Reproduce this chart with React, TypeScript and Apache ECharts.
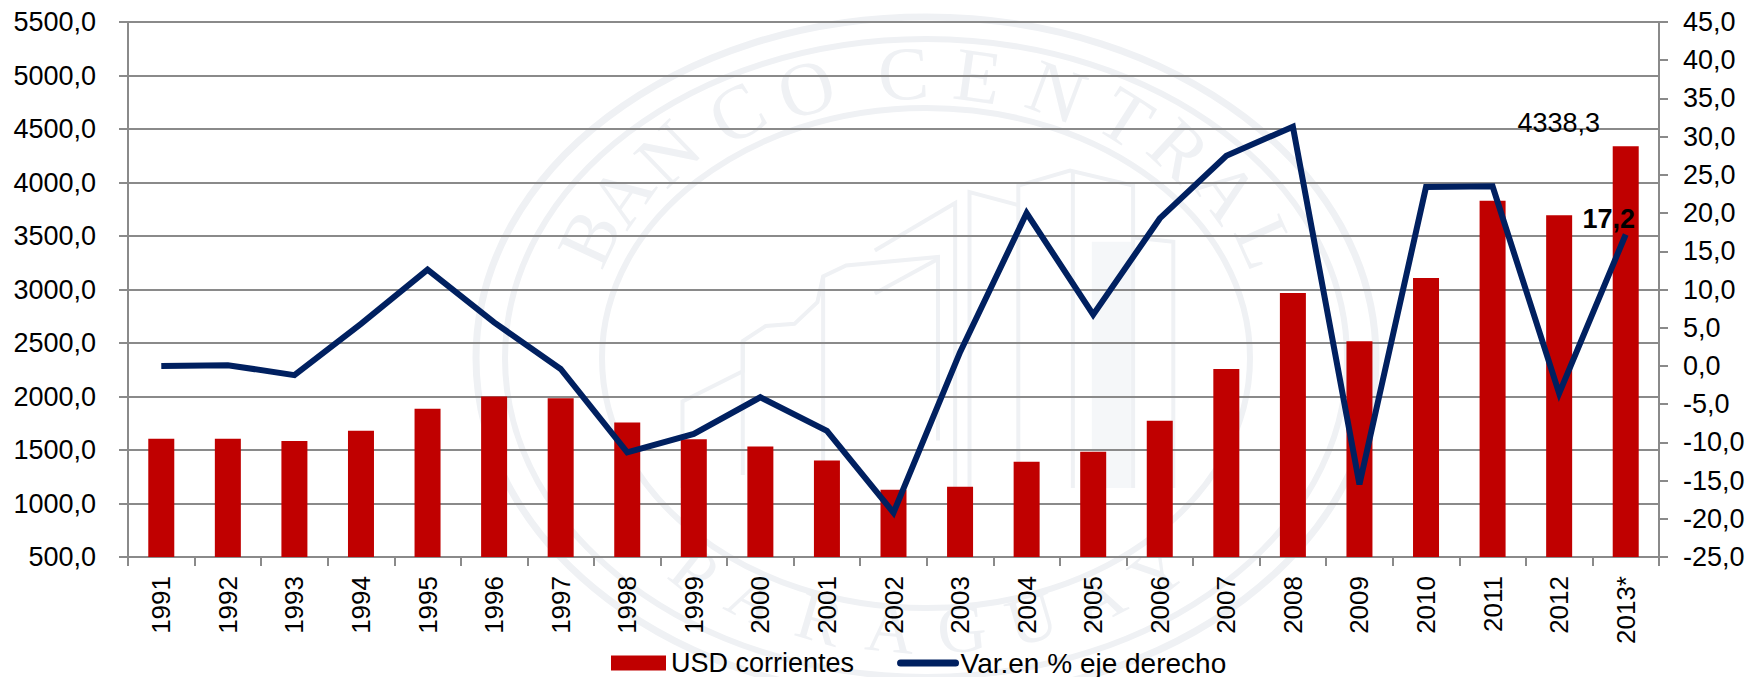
import React, { useEffect, useRef } from "react";
import * as echarts from "echarts";

const years = ["1991","1992","1993","1994","1995","1996","1997","1998","1999","2000","2001","2002","2003","2004","2005","2006","2007","2008","2009","2010","2011","2012","2013*"];
const usdCorrientes = [1605,1605,1585,1680,1885,2000,1984,1758,1600,1532,1403,1129,1157,1391,1484,1774,2258,2968,2516,3107,3830,3695,4338.3];
const varPct = [0.0,0.1,-1.2,5.5,12.6,5.7,-0.4,-11.3,-8.9,-4.1,-8.5,-19.2,1.8,20.0,6.7,19.3,27.5,31.3,-15.5,23.4,23.5,-3.6,17.2];
const sealTop = ["B","A","N","C","O","C","E","N","T","R","A","L"];
const sealTopAngles = [-65,-55,-44,-30.6,-18.8,-3.5,8,20.6,32.5,43,54,66];
const sealBottom = "PARAGUAY";

const FONT = "Liberation Sans";
const GREY = "#8a8a8a";
const SEAL = "#eff1f4";
const fmt = (v: number) => v.toFixed(1).replace(".", ",");

const CX = 926, CY = 358;
const ring = (rx: number, ry: number, w: number) => ({
  type: "ellipse", silent: true,
  shape: { cx: CX, cy: CY, rx, ry },
  style: { fill: "none", stroke: SEAL, lineWidth: w },
});
const z3 = (pts: number[][]) => pts.map(([x, y]) => [450 + x / 1.742, y / 2.316]);
const bld = (pts: number[][]) => ({
  type: "polyline", silent: true,
  shape: { points: z3(pts) },
  style: { fill: "none", stroke: SEAL, lineWidth: 4 },
});

function sealElements(): any[] {
  const out: any[] = [ring(450, 341, 7), ring(421, 319, 6), ring(324, 250, 6)];
  sealTop.forEach((ch, i) => {
    const t = (sealTopAngles[i] * Math.PI) / 180;
    out.push({
      type: "text", silent: true,
      x: CX + 372 * Math.sin(t), y: CY - 285 * Math.cos(t), rotation: -t,
      style: { text: ch, fill: SEAL, font: "76px 'Liberation Serif'", align: "center", verticalAlign: "middle" },
    });
  });
  sealBottom.split("").forEach((ch, i) => {
    const p = ((i - 3.5) * 11 * Math.PI) / 180;
    out.push({
      type: "text", silent: true,
      x: CX + 372 * Math.sin(p), y: CY + 272 * Math.cos(p), rotation: p,
      style: { text: ch, fill: SEAL, font: "68px 'Liberation Serif'", align: "center", verticalAlign: "middle" },
    });
  });
  out.push(
    bld([[405,1130],[405,930],[510,860],[510,790],[550,755],[600,750],[640,700],[650,640],[690,615],[850,595],[850,1020]]),
    bld([[510,790],[510,1100]]),
    bld([[650,640],[650,1100]]),
    bld([[740,680],[850,600]]),
    bld([[880,1130],[880,470],[740,580]]),
    bld([[905,1130],[905,445],[990,475]]),
    bld([[990,1130],[990,430],[1080,395],[1190,430],[1190,1130]]),
    bld([[1085,400],[1085,1130]]),
    bld([[1190,550],[1260,560],[1260,1130]]),
    {
      type: "rect", silent: true,
      shape: { x: 450 + 1118 / 1.742, y: 560 / 2.316, width: 68 / 1.742, height: 570 / 2.316 },
      style: { fill: "#f5f7f9" },
    },
  );
  return out;
}

export default function App() {
  const ref = useRef<HTMLDivElement>(null);
  useEffect(() => {
    document.body.style.margin = "0";
    const chart = echarts.init(ref.current!, null, { renderer: "svg" });
    const axisText = { fontFamily: FONT, fontSize: 27, color: "#000" };
    chart.setOption({
      animation: false,
      backgroundColor: "#fff",
      textStyle: { fontFamily: FONT },
      graphic: { z: -1, elements: sealElements() },
      grid: { left: 128, right: 89, top: 22, bottom: 120, containLabel: false },
      legend: {
        left: 606, top: 644, itemGap: 43, itemWidth: 55, itemHeight: 15,
        textStyle: { ...axisText },
        data: [
          { name: "USD corrientes", icon: "rect" },
          { name: "Var.en % eje derecho", textStyle: { fontSize: 28 }, itemStyle: { opacity: 0 }, lineStyle: { width: 7, cap: "round", color: "#002060", opacity: 1 } },
        ],
      },
      xAxis: {
        type: "category", data: years, boundaryGap: true,
        axisLine: { onZero: false, lineStyle: { color: GREY, width: 2 } },
        axisTick: { show: true, length: 9, lineStyle: { color: GREY, width: 2 }, alignWithLabel: false },
        axisLabel: { ...axisText, fontSize: 26, rotate: 90, margin: 19, interval: 0 },
      },
      yAxis: [
        {
          type: "value", min: 500, max: 5500, interval: 500,
          axisLine: { show: true, lineStyle: { color: GREY, width: 2 } },
          axisTick: { show: true, length: 9, lineStyle: { color: GREY, width: 2 } },
          splitLine: { show: true, lineStyle: { color: GREY, width: 2 } },
          axisLabel: { ...axisText, margin: 32, formatter: fmt },
        },
        {
          type: "value", min: -25, max: 45, interval: 5, position: "right",
          axisLine: { show: true, lineStyle: { color: GREY, width: 2 } },
          axisTick: { show: true, length: 9, lineStyle: { color: GREY, width: 2 } },
          splitLine: { show: false },
          axisLabel: { ...axisText, margin: 24, formatter: fmt },
        },
      ],
      series: [
        {
          name: "USD corrientes", type: "bar", yAxisIndex: 0, barWidth: 26,
          itemStyle: { color: "#c00000" },
          data: usdCorrientes.map((v, i) =>
            i === usdCorrientes.length - 1
              ? { value: v, label: { show: true, position: "top", offset: [-67, -5], fontFamily: FONT, fontSize: 27, color: "#000", formatter: () => fmt(v) } }
              : v,
          ),
        },
        {
          name: "Var.en % eje derecho", type: "line", yAxisIndex: 1,
          symbol: "circle", symbolSize: 0, showSymbol: true,
          lineStyle: { color: "#002060", width: 6, join: "miter" },
          itemStyle: { color: "#002060" },
          data: varPct.map((v, i) =>
            i === varPct.length - 1
              ? { value: v, label: { show: true, position: "top", offset: [-17, 3], fontFamily: FONT, fontSize: 27, fontWeight: "bold", color: "#000", formatter: () => fmt(v) } }
              : v,
          ),
        },
      ],
    });
    return () => chart.dispose();
  }, []);
  return <div ref={ref} style={{ position: "fixed", left: 0, top: 0, width: 1748, height: 677 }} />;
}
